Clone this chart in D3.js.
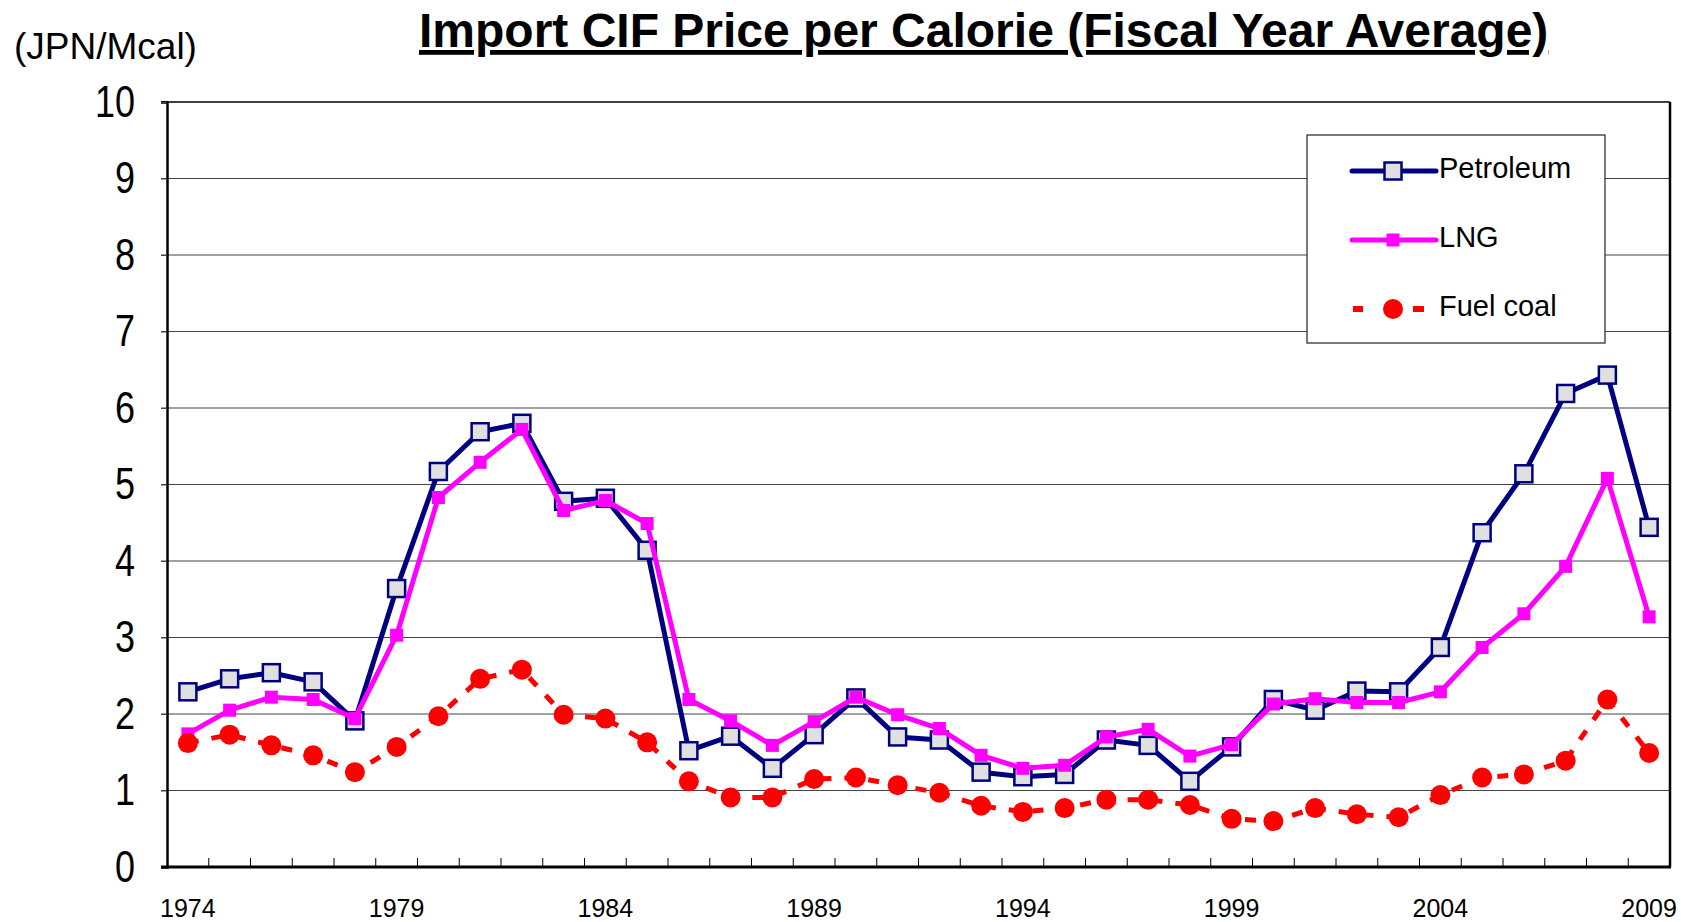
<!DOCTYPE html>
<html>
<head>
<meta charset="utf-8">
<script src="https://cdn.jsdelivr.net/npm/d3@7"></script>
<style>
  body { margin: 0; background: #fff; }
  svg { display: block; }
  text { font-family: 'Liberation Sans', Arial, sans-serif; }
</style>
</head>
<body>
<svg id="chart" width="1681" height="922"></svg>
<script>
// fiscal years
const years = d3.range(1974, 2010)
const yearLabels = [1974, 1979, 1984, 1989, 1994, 1999, 2004, 2009]
const yTicks = [0, 1, 2, 3, 4, 5, 6, 7, 8, 9, 10]

// JPN / Mcal
const petroleum = [2.29, 2.46, 2.54, 2.42, 1.91, 3.64, 5.17, 5.69, 5.80, 4.78,
    4.82, 4.14, 1.52, 1.71, 1.29, 1.73, 2.21, 1.70, 1.66, 1.24,
    1.18, 1.21, 1.66, 1.59, 1.12, 1.57, 2.19, 2.05, 2.30, 2.29,
    2.87, 4.37, 5.14, 6.19, 6.43, 4.44]
const lng = [1.74, 2.05, 2.22, 2.19, 1.94, 3.03, 4.83, 5.29, 5.72, 4.66,
    4.79, 4.49, 2.19, 1.91, 1.59, 1.90, 2.22, 1.99, 1.81, 1.46,
    1.29, 1.33, 1.70, 1.80, 1.45, 1.60, 2.13, 2.20, 2.15, 2.15,
    2.29, 2.87, 3.31, 3.93, 5.08, 3.27]
const fuelCoal = [1.62, 1.73, 1.59, 1.46, 1.24, 1.57, 1.97, 2.46, 2.58, 1.99,
    1.94, 1.63, 1.12, 0.91, 0.91, 1.15, 1.17, 1.07, 0.97, 0.80,
    0.72, 0.77, 0.88, 0.88, 0.81, 0.63, 0.60, 0.77, 0.69, 0.65,
    0.94, 1.17, 1.21, 1.39, 2.19, 1.49]

const svg = d3.select('#chart')

// plot area
const plotLeft = 167, plotRight = 1670, plotTop = 102, plotBottom = 867

const x = d3.scaleBand().domain(years).range([plotLeft, plotRight]).padding(0)
const y = d3.scaleLinear().domain([0, 10]).range([plotBottom, plotTop])
const cx = d => x(d) + x.bandwidth() / 2

// gridlines
svg.append('g')
    .selectAll('line')
    .data(yTicks.filter(t => t > 0 && t < 10))
    .enter().append('line')
    .attr('x1', plotLeft - 6)
    .attr('x2', plotRight)
    .attr('y1', d => y(d))
    .attr('y2', d => y(d))
    .attr('stroke', '#444')
    .attr('stroke-width', 1.2)

// plot border
svg.append('line').attr('x1', plotLeft - 6).attr('x2', plotRight).attr('y1', plotTop).attr('y2', plotTop)
    .attr('stroke', '#000').attr('stroke-width', 1.5)
svg.append('line').attr('x1', plotRight).attr('x2', plotRight).attr('y1', plotTop).attr('y2', plotBottom)
    .attr('stroke', '#000').attr('stroke-width', 2.5)

// y axis (labels squeezed, the original uses a narrow face)
const ySqueeze = 0.8
const yAxis = svg.append('g')
    .attr('transform', 'translate(' + plotLeft + ',0)')
    .call(d3.axisLeft(y).tickValues(yTicks).tickSize(6).tickFormat(d3.format('d')))
yAxis.select('.domain').attr('stroke-width', 2.5)
yAxis.selectAll('.tick line').attr('stroke', '#444')
yAxis.selectAll('text')
    .attr('font-size', 45)
    .attr('font-family', null)
    .attr('fill', '#000')
    .attr('x', -32 / ySqueeze)
    .attr('transform', 'scale(' + ySqueeze + ',1)')

// x axis, ticks between categories pointing up
const xAxisG = svg.append('g').attr('transform', 'translate(0,' + plotBottom + ')')
xAxisG.append('line').attr('x1', plotLeft - 6).attr('x2', plotRight + 1).attr('y1', 0).attr('y2', 0)
    .attr('stroke', '#000').attr('stroke-width', 3)
xAxisG.selectAll('.tk')
    .data(years)
    .enter().append('line')
    .attr('class', 'tk')
    .attr('x1', d => x(d) + x.bandwidth())
    .attr('x2', d => x(d) + x.bandwidth())
    .attr('y1', 0)
    .attr('y2', -9)
    .attr('stroke', '#000')
    .attr('stroke-width', 1)
xAxisG.selectAll('.lbl')
    .data(yearLabels)
    .enter().append('text')
    .attr('class', 'lbl')
    .attr('x', d => cx(d))
    .attr('y', 50)
    .attr('text-anchor', 'middle')
    .attr('font-size', 25)
    .text(d => d)

// series
const line = d3.line().x((d, i) => cx(years[i])).y(d => y(d))

svg.append('path').datum(petroleum)
    .attr('d', line).attr('fill', 'none')
    .attr('stroke', '#000080').attr('stroke-width', 5).attr('stroke-linejoin', 'round')
svg.append('g').selectAll('rect')
    .data(petroleum)
    .enter().append('rect')
    .attr('x', (d, i) => cx(years[i]) - 8.5)
    .attr('y', d => y(d) - 8.5)
    .attr('width', 17).attr('height', 17)
    .attr('fill', '#e0e0e0').attr('stroke', '#000080').attr('stroke-width', 2.5)

svg.append('path').datum(lng)
    .attr('d', line).attr('fill', 'none')
    .attr('stroke', '#ff00ff').attr('stroke-width', 5).attr('stroke-linejoin', 'round')
svg.append('g').selectAll('rect')
    .data(lng)
    .enter().append('rect')
    .attr('x', (d, i) => cx(years[i]) - 6.5)
    .attr('y', d => y(d) - 6.5)
    .attr('width', 13).attr('height', 13)
    .attr('fill', '#ff00ff')

svg.append('path').datum(fuelCoal)
    .attr('d', line).attr('fill', 'none')
    .attr('stroke', '#ff0000').attr('stroke-width', 5).attr('stroke-dasharray', '11,13')
svg.append('g').selectAll('circle')
    .data(fuelCoal)
    .enter().append('circle')
    .attr('cx', (d, i) => cx(years[i]))
    .attr('cy', d => y(d))
    .attr('r', 10)
    .attr('fill', '#ff0000')

// title and unit
svg.append('text')
    .attr('x', 419).attr('y', 47)
    .attr('font-weight', 'bold')
    .attr('font-size', 48)
    .attr('text-decoration', 'underline')
    .text('Import CIF Price per Calorie (Fiscal Year Average)')

svg.append('text')
    .attr('x', 14).attr('y', 59)
    .attr('font-size', 37)
    .text('(JPN/Mcal)')

// legend
const legend = svg.append('g')
legend.append('rect')
    .attr('x', 1307).attr('y', 135).attr('width', 298).attr('height', 208)
    .attr('fill', '#fff').attr('stroke', '#222').attr('stroke-width', 1.2)

const legendItems = [
    { name: 'Petroleum', ly: 171 },
    { name: 'LNG', ly: 240 },
    { name: 'Fuel coal', ly: 309 }
]
const lx1 = 1352, lx2 = 1436, lmid = 1393

legend.append('line').attr('x1', lx1).attr('x2', lx2).attr('y1', 171).attr('y2', 171)
    .attr('stroke', '#000080').attr('stroke-width', 5).attr('stroke-linecap', 'round')
legend.append('rect').attr('x', lmid - 8.5).attr('y', 171 - 8.5).attr('width', 17).attr('height', 17)
    .attr('fill', '#e0e0e0').attr('stroke', '#000080').attr('stroke-width', 2.5)

legend.append('line').attr('x1', lx1).attr('x2', lx2).attr('y1', 240).attr('y2', 240)
    .attr('stroke', '#ff00ff').attr('stroke-width', 5).attr('stroke-linecap', 'round')
legend.append('rect').attr('x', lmid - 6.5).attr('y', 240 - 6.5).attr('width', 13).attr('height', 13)
    .attr('fill', '#ff00ff')

legend.append('line').attr('x1', 1353).attr('x2', 1363).attr('y1', 309).attr('y2', 309)
    .attr('stroke', '#ff0000').attr('stroke-width', 6)
legend.append('line').attr('x1', 1413).attr('x2', 1424).attr('y1', 309).attr('y2', 309)
    .attr('stroke', '#ff0000').attr('stroke-width', 6)
legend.append('circle').attr('cx', lmid).attr('cy', 309).attr('r', 10).attr('fill', '#ff0000')

legend.selectAll('.ltext')
    .data(legendItems)
    .enter().append('text')
    .attr('class', 'ltext')
    .attr('x', 1439)
    .attr('y', d => d.ly + 7)
    .attr('font-size', 29)
    .text(d => d.name)
</script>
</body>
</html>
